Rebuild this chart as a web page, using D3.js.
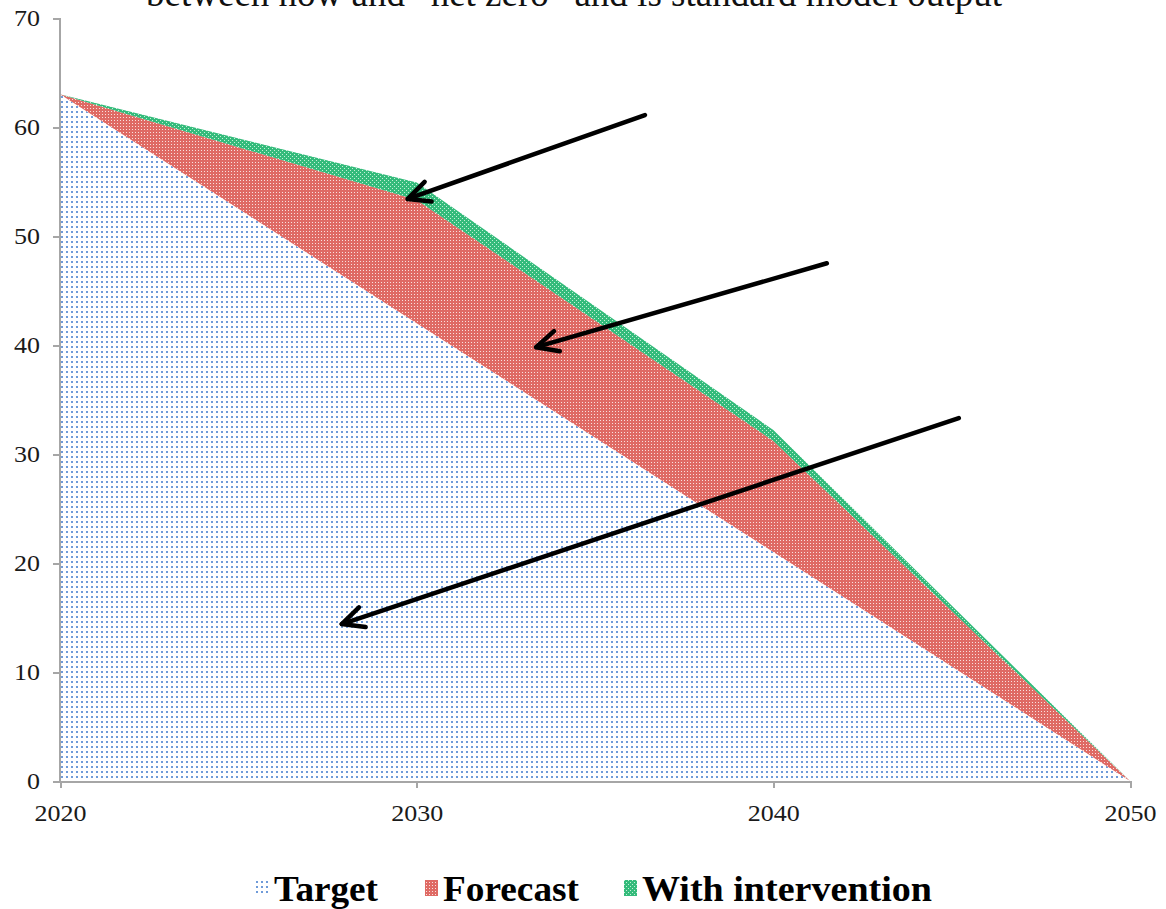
<!DOCTYPE html>
<html>
<head>
<meta charset="utf-8">
<script src="https://cdn.jsdelivr.net/npm/d3@7"></script>
<style>
  html, body { margin: 0; padding: 0; background: #fff; }
  svg { display: block; }
  .axis path, .axis line { stroke: #a6a6a6; stroke-width: 2; shape-rendering: crispEdges; }
  .axis text { font-family: "Liberation Serif", serif; font-size: 23px; fill: #1a1a1a; }
</style>
</head>
<body>
<svg id="chart" width="1166" height="909"></svg>
<script>
// Emission pathway, stacked: target path, extra from forecast, extra with intervention
const years = [2020, 2030, 2040, 2050];
const target = [63, 42, 21, 0];
const forecastExtra = [0, 11.3, 10.2, 0];
const interventionExtra = [0, 1.6, 1.0, 0];
const seriesNames = ["Target", "Forecast", "With intervention"];
const yTicks = [0, 10, 20, 30, 40, 50, 60, 70];
const xTicks = [2020, 2030, 2040, 2050];
const titleLine = "between now and \u201cnet zero\u201d and is standard model output";

// Annotation arrows in data units: [fromYear, fromValue, toYear, toValue]
const arrows = [
  [2036.4, 61.1, 2029.75, 53.4],
  [2041.5, 47.5, 2033.35, 39.8],
  [2045.2, 33.3, 2027.9, 14.4]
];

const svg = d3.select("#chart");
const margin = { left: 60, right: 36, top: 18, bottom: 128 };
const W = 1166, H = 909;

const x = d3.scaleLinear().domain([2020, 2050]).range([margin.left, W - margin.right]);
const y = d3.scaleLinear().domain([0, 70]).range([H - margin.bottom, margin.top]);

// Fill patterns
const defs = svg.append("defs");
const pTarget = defs.append("pattern").attr("id", "pat-target")
  .attr("patternUnits", "userSpaceOnUse").attr("width", 5).attr("height", 5);
pTarget.append("rect").attr("width", 5).attr("height", 5).attr("fill", "#ffffff");
pTarget.append("rect").attr("x", 1).attr("y", 1).attr("width", 2).attr("height", 2).attr("fill", "#6f9bd9");

const pFore = defs.append("pattern").attr("id", "pat-forecast")
  .attr("patternUnits", "userSpaceOnUse").attr("width", 3).attr("height", 3);
pFore.append("rect").attr("width", 3).attr("height", 3).attr("fill", "#df6a64");
pFore.append("rect").attr("x", 0).attr("y", 0).attr("width", 1).attr("height", 1).attr("fill", "#f9e0de");

const pInt = defs.append("pattern").attr("id", "pat-intervention")
  .attr("patternUnits", "userSpaceOnUse").attr("width", 4).attr("height", 4);
pInt.append("rect").attr("width", 4).attr("height", 4).attr("fill", "#34bb7b");
pInt.append("rect").attr("x", 0).attr("y", 0).attr("width", 1).attr("height", 1).attr("fill", "#c4f0d7");
pInt.append("rect").attr("x", 2).attr("y", 2).attr("width", 1).attr("height", 1).attr("fill", "#c4f0d7");

const fills = ["url(#pat-target)", "url(#pat-forecast)", "url(#pat-intervention)"];

// Stacked areas
const rows = years.map((yr, i) => ({
  year: yr,
  Target: target[i],
  Forecast: forecastExtra[i],
  "With intervention": interventionExtra[i]
}));
const stacked = d3.stack().keys(seriesNames)(rows);
const area = d3.area()
  .x(d => x(d.data.year))
  .y0(d => y(d[0]))
  .y1(d => y(d[1]));

svg.append("g").selectAll("path")
  .data(stacked)
  .join("path")
  .attr("d", area)
  .attr("fill", (d, i) => fills[i]);

// Axes
const yAxis = svg.append("g").attr("class", "axis")
  .attr("transform", `translate(${margin.left},0)`)
  .call(d3.axisLeft(y).tickValues(yTicks).tickSize(7).tickPadding(13).tickSizeOuter(0));
yAxis.select(".domain").attr("d", `M0,${y(70)}V${y(0)}`);

const xAxis = svg.append("g").attr("class", "axis")
  .attr("transform", `translate(0,${y(0)})`)
  .call(d3.axisBottom(x).tickValues(xTicks).tickFormat(d3.format("d")).tickSize(7).tickPadding(17).tickSizeOuter(0));

// Wider digit set for tick labels
svg.selectAll(".axis .tick text")
  .attr("textLength", function () { return this.textContent.length * 13; })
  .attr("lengthAdjust", "spacingAndGlyphs");

// Title (second line sits at the very top edge)
svg.append("text")
  .attr("x", 574).attr("y", 6)
  .attr("text-anchor", "middle")
  .attr("font-family", "Liberation Serif, serif")
  .attr("font-size", 37)
  .attr("fill", "#111")
  .text(titleLine);

// Annotation arrows
const arrowG = svg.append("g").attr("stroke", "#000").attr("stroke-width", 4.5)
  .attr("fill", "none").attr("stroke-linecap", "round").attr("stroke-linejoin", "round");
arrows.forEach(a => {
  const x1 = x(a[0]), y1 = y(a[1]), x2 = x(a[2]), y2 = y(a[3]);
  const ang = Math.atan2(y2 - y1, x2 - x1);
  const len = 24, spread = 0.45;
  const hx1 = x2 - len * Math.cos(ang - spread), hy1 = y2 - len * Math.sin(ang - spread);
  const hx2 = x2 - len * Math.cos(ang + spread), hy2 = y2 - len * Math.sin(ang + spread);
  arrowG.append("path").attr("d", `M${x1},${y1}L${x2},${y2}`);
  arrowG.append("path").attr("d", `M${hx1},${hy1}L${x2},${y2}L${hx2},${hy2}`);
});

// Legend
const legendItems = [
  { name: seriesNames[0], fill: fills[0], sx: 256, w: 104 },
  { name: seriesNames[1], fill: fills[1], sx: 425, w: 136 },
  { name: seriesNames[2], fill: fills[2], sx: 624, w: 290 }
];
const lg = svg.append("g");
legendItems.forEach(it => {
  lg.append("rect").attr("x", it.sx).attr("y", 880).attr("width", 13).attr("height", 16).attr("fill", it.fill);
  lg.append("text").attr("x", it.sx + 18).attr("y", 901)
    .attr("font-family", "Liberation Serif, serif")
    .attr("font-weight", "bold")
    .attr("font-size", 36)
    .attr("fill", "#000")
    .attr("textLength", it.w)
    .attr("lengthAdjust", "spacingAndGlyphs")
    .text(it.name);
});
</script>
</body>
</html>
